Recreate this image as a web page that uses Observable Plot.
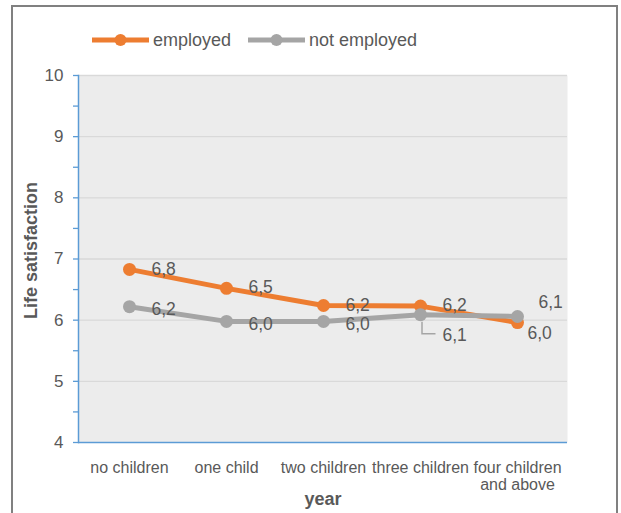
<!DOCTYPE html>
<html>
<head>
<meta charset="utf-8">
<script src="https://cdn.jsdelivr.net/npm/d3@7"></script>
<script src="https://cdn.jsdelivr.net/npm/@observablehq/plot@0.6"></script>
<style>
  html, body { margin: 0; padding: 0; background: #ffffff; }
  #wrap { position: relative; width: 621px; height: 513px; overflow: hidden; font-family: "Liberation Sans", Arial, sans-serif; color: #595959; }
  #border { position: absolute; left: 11px; top: 5px; width: 603px; height: 600px; border: 2px solid #808080; box-sizing: content-box; }
  #chart { position: absolute; left: 0; top: 0; }
  #legend { position: absolute; left: 92px; top: 28px; display: flex; align-items: center; gap: 17px; font-size: 18px; line-height: 24px; }
  .item { display: flex; align-items: center; }
  .item svg { display: block; margin-right: 4px; }
</style>
</head>
<body>
<div id="wrap">
  <div id="border"></div>
  <div id="chart"></div>
  <div id="legend"></div>
</div>
<script>
// ---- data ----
const categories = ["no children", "one child", "two children", "three children", "four children and above"];
const categoryTickLabels = ["no children", "one child", "two children", "three children", "four children\nand above"];
const employed = [6.83, 6.52, 6.24, 6.23, 5.96];
const notEmployed = [6.22, 5.98, 5.98, 6.09, 6.06];
const seriesNames = ["employed", "not employed"];
const yMajorTicks = [4, 5, 6, 7, 8, 9, 10];
const yMinorTicks = [4.5, 5.5, 6.5, 7.5, 8.5, 9.5];
const yTitle = "Life satisfaction";
const xTitle = "year";

// ---- styles ----
const colors = ["#ED7D31", "#A5A5A5"];
const textColor = "#595959";
const axisBlue = "#5B9BD5";

const emp = categories.map((c, i) => ({cat: c, v: employed[i], i}));
const nemp = categories.map((c, i) => ({cat: c, v: notEmployed[i], i}));
const fmt = d => d.v.toFixed(1).replace(".", ",");
const tickMap = new Map(categories.map((c, i) => [c, categoryTickLabels[i]]));

const leaderSymbol = {
  draw(context) {
    context.moveTo(1.5, 7);
    context.lineTo(1.5, 19);
    context.lineTo(15, 19);
  }
};

const labelBase = {x: "cat", y: "v", text: fmt, textAnchor: "start", lineAnchor: "middle", fill: textColor, fontSize: 17.5};

const plot = Plot.plot({
  width: 621,
  height: 513,
  marginTop: 75,
  marginBottom: 71,
  marginLeft: 78,
  marginRight: 54,
  style: {fontFamily: "'Liberation Sans', Arial, sans-serif", fontSize: "16px", color: textColor, background: "transparent", overflow: "visible"},
  x: {type: "point", domain: categories, padding: 0.5, label: null},
  y: {domain: [4, 10], label: null},
  marks: [
    Plot.frame({fill: "#ECECEC", stroke: "none"}),
    Plot.gridY(yMajorTicks.filter(t => t !== 4), {stroke: "#D9D9D9", strokeOpacity: 1, strokeWidth: 1.3}),
    Plot.axisY(yMajorTicks.concat(yMinorTicks), {
      tickSize: 5, tickPadding: 10, stroke: axisBlue, strokeWidth: 1.3, fill: textColor, fontSize: 17,
      tickFormat: d => Number.isInteger(d) ? String(d) : "", label: null
    }),
    Plot.axisX({tickSize: 0, tickPadding: 19, fontSize: 16, lineHeight: 1.05, fill: textColor, tickFormat: d => tickMap.get(d), label: null}),
    Plot.frame({anchor: "left", stroke: axisBlue, strokeWidth: 1.5}),
    Plot.ruleY([4], {stroke: axisBlue, strokeWidth: 1.5}),
    // employed
    Plot.line(emp, {x: "cat", y: "v", stroke: colors[0], strokeWidth: 5}),
    Plot.dot(emp, {x: "cat", y: "v", r: 6.5, fill: colors[0], stroke: "none"}),
    // not employed
    Plot.line(nemp, {x: "cat", y: "v", stroke: colors[1], strokeWidth: 5}),
    Plot.dot(nemp, {x: "cat", y: "v", r: 6.5, fill: colors[1], stroke: "none"}),
    // leader line for the displaced label
    Plot.dot(nemp.filter(d => d.i === 3), {x: "cat", y: "v", symbol: leaderSymbol, r: 5, fill: "none", stroke: colors[1], strokeWidth: 1.5}),
    // data labels
    Plot.text(emp.filter(d => d.i < 4), {...labelBase, dx: 22, dy: -0.5}),
    Plot.text(emp.filter(d => d.i === 4), {...labelBase, dx: 10, dy: 11}),
    Plot.text(nemp.filter(d => d.i < 3), {...labelBase, dx: 22, dy: 3}),
    Plot.text(nemp.filter(d => d.i === 3), {...labelBase, dx: 22, dy: 21}),
    Plot.text(nemp.filter(d => d.i === 4), {...labelBase, dx: 21, dy: -14}),
    // axis titles
    Plot.text([yTitle], {frameAnchor: "left", text: d => d, rotate: -90, dx: -47.5, dy: -8.5, fontWeight: "bold", fontSize: 18, fill: textColor, textAnchor: "middle", lineAnchor: "middle"}),
    Plot.text([xTitle], {frameAnchor: "bottom", text: d => d, dy: 57, fontWeight: "bold", fontSize: 18, fill: textColor, textAnchor: "middle", lineAnchor: "middle"})
  ]
});
document.getElementById("chart").appendChild(plot);

// ---- legend ----
const legend = d3.select("#legend");
seriesNames.forEach((name, i) => {
  const item = legend.append("div").attr("class", "item");
  const svg = item.append("svg").attr("width", 57).attr("height", 14);
  svg.append("line").attr("x1", 0).attr("x2", 57).attr("y1", 7).attr("y2", 7)
    .attr("stroke", colors[i]).attr("stroke-width", 5);
  svg.append("circle").attr("cx", 28.5).attr("cy", 7).attr("r", 6).attr("fill", colors[i]);
  item.append("span").text(name);
});
</script>
</body>
</html>
